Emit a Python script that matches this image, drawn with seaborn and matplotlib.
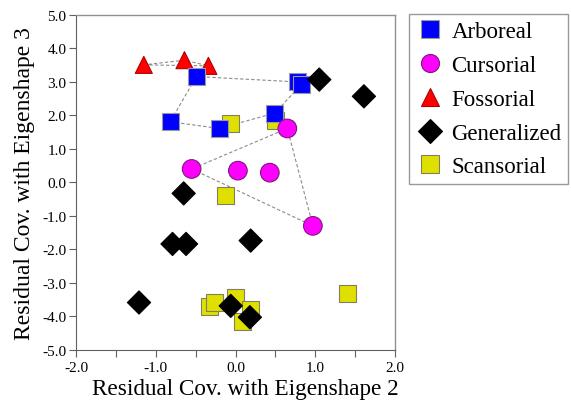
import numpy as np
import pandas as pd
import matplotlib
matplotlib.use("Agg")
import matplotlib.pyplot as plt
from matplotlib.lines import Line2D
import seaborn as sns

# Residual covariances per locomotor group
arboreal_x = [-0.49, 0.78, 0.83, -0.82, -0.20, 0.49]
arboreal_y = [3.16, 3.00, 2.93, 1.81, 1.61, 2.07]

cursorial_x = [0.65, -0.55, 0.03, 0.43, 0.97]
cursorial_y = [1.61, 0.40, 0.35, 0.29, -1.30]

fossorial_x = [-1.15, -0.64, -0.34]
fossorial_y = [3.51, 3.65, 3.48]

generalized_x = [1.05, 1.61, -0.65, -0.79, -0.62, 0.19, -1.21, -0.06, 0.18]
generalized_y = [3.07, 2.57, -0.33, -1.84, -1.84, -1.74, -3.59, -3.69, -4.03]

scansorial_x = [-0.06, 0.50, -0.12, -0.32, -0.26, 0.00, 0.19, 0.09, 1.41]
scansorial_y = [1.77, 1.85, -0.40, -3.70, -3.59, -3.44, -3.79, -4.17, -3.32]

groups = ["Arboreal", "Cursorial", "Fossorial", "Generalized", "Scansorial"]
colors = {"Arboreal": "#0000FF", "Cursorial": "#FF00FF", "Fossorial": "#FF0000",
          "Generalized": "#000000", "Scansorial": "#E0E000"}
markers = {"Arboreal": "s", "Cursorial": "o", "Fossorial": "^",
           "Generalized": "D", "Scansorial": "s"}
edges = {"Arboreal": "#9a9a9a", "Cursorial": "#7a1a7a", "Fossorial": "#b00000",
         "Generalized": "#000000", "Scansorial": "#808060"}
sizes = {"Arboreal": 150, "Cursorial": 180, "Fossorial": 150,
         "Generalized": 140, "Scansorial": 150}

data = {
    "Arboreal": (arboreal_x, arboreal_y),
    "Cursorial": (cursorial_x, cursorial_y),
    "Fossorial": (fossorial_x, fossorial_y),
    "Generalized": (generalized_x, generalized_y),
    "Scansorial": (scansorial_x, scansorial_y),
}

# stacking order of the marks (back to front)
draw_order = ["Scansorial", "Fossorial", "Arboreal", "Generalized", "Cursorial"]
frames = []
for g in draw_order:
    xs, ys = data[g]
    frames.append(pd.DataFrame({"x": xs, "y": ys, "group": g}))
df = pd.concat(frames, ignore_index=True)


def convex_hull(pts):
    pts = sorted(set(pts))
    if len(pts) < 3:
        return pts
    def cross(o, a, b):
        return (a[0] - o[0]) * (b[1] - o[1]) - (a[1] - o[1]) * (b[0] - o[0])
    lower, upper = [], []
    for p in pts:
        while len(lower) >= 2 and cross(lower[-2], lower[-1], p) <= 0:
            lower.pop()
        lower.append(p)
    for p in reversed(pts):
        while len(upper) >= 2 and cross(upper[-2], upper[-1], p) <= 0:
            upper.pop()
        upper.append(p)
    return lower[:-1] + upper[:-1]


plt.rcParams["font.family"] = ["Liberation Serif", "DejaVu Serif"]
fig = plt.figure(figsize=(5.71, 4.10), dpi=100)
ax = fig.add_axes([0.1331, 0.1446, 0.5587, 0.8164])

# dashed hulls around the groups with distinct envelopes
for g in ["Arboreal", "Cursorial", "Fossorial"]:
    xs, ys = data[g]
    hull = convex_hull(list(zip(xs, ys)))
    hull.append(hull[0])
    hx, hy = zip(*hull)
    ax.plot(hx, hy, color="#8a8a8a", lw=0.8, dashes=(3, 2), zorder=1)

sns.scatterplot(data=df, x="x", y="y", hue="group", style="group",
                hue_order=groups, style_order=groups,
                palette=colors, markers=markers, s=150,
                linewidth=0.8, ax=ax, legend=False, zorder=3)

coll = ax.collections[-1]
coll.set_edgecolors([edges[g] for g in df["group"]])
coll.set_sizes([sizes[g] for g in df["group"]])

xt = np.arange(-2, 2.01, 0.5)
ax.set_xlim(-2, 2)
ax.set_ylim(-5, 5)
ax.set_xticks(xt)
ax.set_xticklabels([f"{v:.1f}" if abs(v - round(v)) < 1e-9 else "" for v in xt])
yt = np.arange(-5, 5.01, 1)
ax.set_yticks(yt)
ax.set_yticklabels([f"{v:.1f}" for v in yt])
ax.tick_params(axis="both", direction="out", length=5, width=0.8, color="#606060",
               labelsize=11, pad=2)
ax.tick_params(axis="x", pad=3)

for side in ["top", "right"]:
    ax.spines[side].set_color("#909090")
    ax.spines[side].set_linewidth(1.0)
for side in ["left", "bottom"]:
    ax.spines[side].set_color("#606060")
    ax.spines[side].set_linewidth(0.8)

ax.set_xlabel("Residual Cov. with Eigenshape 2", fontsize=16.7)
ax.set_ylabel("Residual Cov. with Eigenshape 3", fontsize=17)
ax.xaxis.set_label_coords(0.53, -0.085)
ax.yaxis.set_label_coords(-0.13, 0.5)

# legend built from the same marker styles
handles = []
for g in groups:
    handles.append(Line2D([], [], linestyle="none", marker=markers[g],
                          markerfacecolor=colors[g], markeredgecolor=edges[g],
                          markeredgewidth=0.8,
                          markersize=13 if g != "Generalized" else 12.5))
leg = fig.legend(handles, groups, loc="upper left",
                 bbox_to_anchor=(409 / 571, 1 - 15 / 410),
                 bbox_transform=fig.transFigure,
                 fontsize=16.5, frameon=True, fancybox=False,
                 borderpad=0.3, labelspacing=0.56, handletextpad=0.35,
                 handlelength=1.2, borderaxespad=0)
leg.get_frame().set_edgecolor("#808080")
leg.get_frame().set_linewidth(1.0)

fig.savefig("out.png", dpi=100)
